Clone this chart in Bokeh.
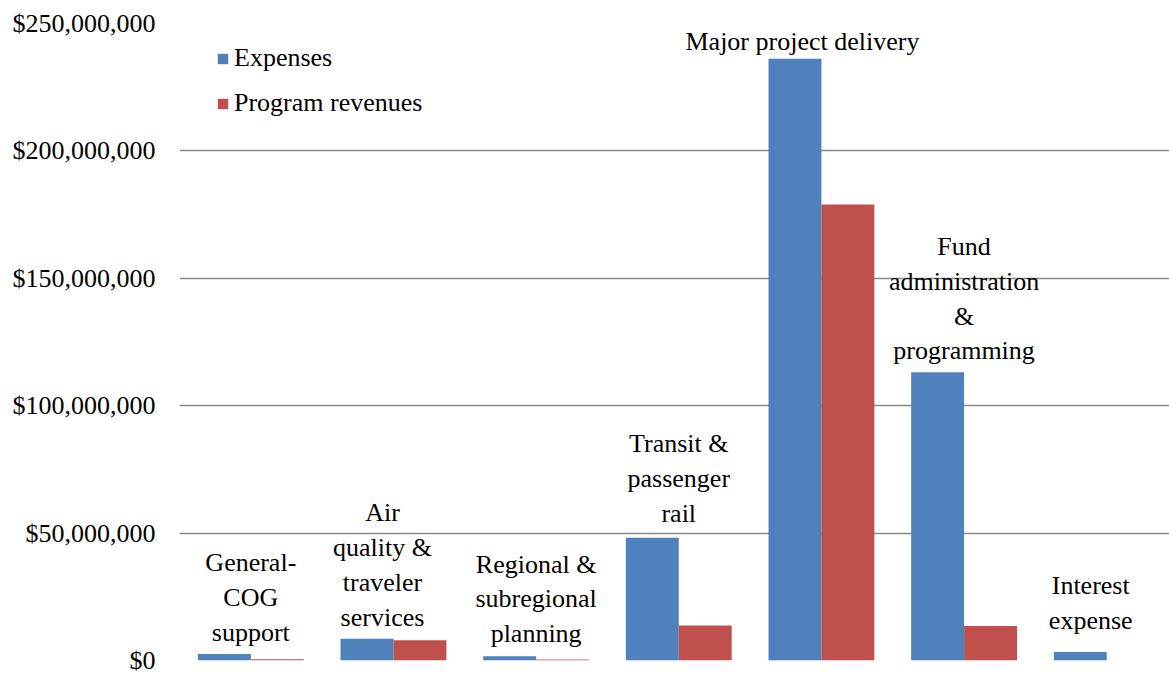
from bokeh.plotting import figure
from bokeh.models import Range1d, NumeralTickFormatter, FixedTicker, ColumnDataSource, Legend, LegendItem
from bokeh.core.properties import value
from bokeh.embed import file_html
from bokeh.resources import INLINE

# ---- data ----
categories = [
    "General-COG support",
    "Air quality & traveler services",
    "Regional & subregional planning",
    "Transit & passenger rail",
    "Major project delivery",
    "Fund administration & programming",
    "Interest expense",
]
label_lines = [
    "General-\nCOG\nsupport",
    "Air\nquality &\ntraveler\nservices",
    "Regional &\nsubregional\nplanning",
    "Transit &\npassenger\nrail",
    "Major project delivery",
    "Fund\nadministration\n&\nprogramming",
    "Interest\nexpense",
]
expenses = [2.6e6, 8.5e6, 1.7e6, 48.2e6, 236.2e6, 113.1e6, 3.3e6]
revenues = [0.5e6, 7.9e6, 0.4e6, 13.7e6, 179.0e6, 13.5e6, 0.0]
y_ticks = [0, 50e6, 100e6, 150e6, 200e6, 250e6]

# ---- style ----
FONT = "'Liberation Serif', 'Times New Roman', serif"
BLUE = "#4F81BD"
RED = "#C0504D"
GRID = "#8A8A8A"
BAR_W = 0.371
label_dx = [0, -11, 0, 0, -19, 0, -16]
label_dy = [-7, -7, -8, -10, -3, -7, -17]

idx = list(range(len(categories)))
src = ColumnDataSource(dict(
    x=idx,
    xe=[i - BAR_W / 2 for i in idx],
    xr=[i + BAR_W / 2 for i in idx],
    exp=expenses,
    rev=revenues,
    top=[max(a, b) for a, b in zip(expenses, revenues)],
    lab=label_lines,
    dx=label_dx,
    dy=label_dy,
    cat=categories,
))

p = figure(
    width=1169, height=675,
    x_range=Range1d(-0.5, 6.44), y_range=Range1d(0, 250e6),
    x_axis_type=None,
    output_backend="svg", toolbar_location=None,
    min_border_left=179, min_border_right=0, min_border_top=23, min_border_bottom=15,
)
p.outline_line_color = None
p.background_fill_color = "white"
p.border_fill_color = "white"

r1 = p.vbar(x="xe", top="exp", width=BAR_W, source=src, fill_color=BLUE, line_color=None)
r2 = p.vbar(x="xr", top="rev", width=BAR_W, source=src, fill_color=RED, line_color=None)

p.text(x="x", y="top", text="lab", source=src, x_offset="dx", y_offset="dy",
       text_align="center", text_baseline="bottom",
       text_font=value(FONT), text_font_size="26px", text_color="black",
       text_line_height=1.2)

yax = p.yaxis[0]
yax.ticker = FixedTicker(ticks=y_ticks)
yax.formatter = NumeralTickFormatter(format="$0,0")
yax.major_label_text_font = FONT
yax.major_label_text_font_size = "26px"
yax.major_label_text_color = "black"
yax.axis_line_color = None
yax.major_tick_line_color = None
yax.minor_tick_line_color = None
yax.major_tick_out = 0
yax.major_tick_in = 0
yax.major_label_standoff = 24

p.xgrid.visible = False
p.ygrid.ticker = FixedTicker(ticks=y_ticks)
p.ygrid.grid_line_color = GRID
p.ygrid.grid_line_width = 1.5

legend = Legend(items=[
    LegendItem(label="Expenses", renderers=[r1]),
    LegendItem(label="Program revenues", renderers=[r2]),
], location=(37, 542))
legend.background_fill_alpha = 0
legend.border_line_color = None
legend.label_text_font = FONT
legend.label_text_font_size = "26px"
legend.label_text_color = "black"
legend.glyph_width = 13
legend.glyph_height = 13
legend.label_standoff = 5
legend.label_height = 26
legend.spacing = 15
legend.padding = 0
legend.margin = 0
p.add_layout(legend)

open("out.html", "w").write(file_html(p, INLINE))
